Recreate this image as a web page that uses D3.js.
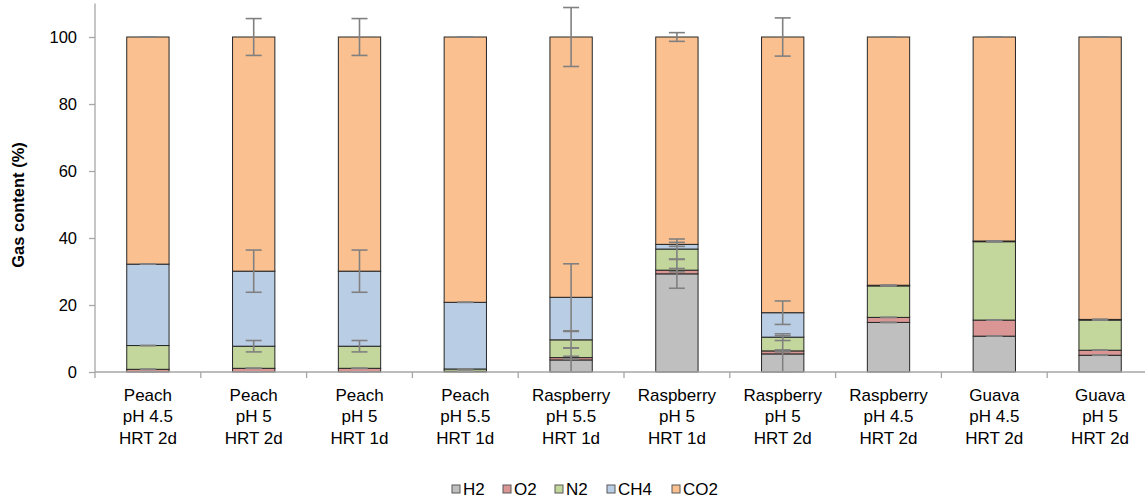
<!DOCTYPE html>
<html>
<head>
<meta charset="utf-8">
<script src="https://cdn.jsdelivr.net/npm/d3@7"></script>
<style>
  html, body { margin: 0; padding: 0; background: #fff; }
  svg { display: block; font-family: "Liberation Sans", Arial, sans-serif; }
</style>
</head>
<body>
<svg id="chart" width="1145" height="499"></svg>
<script>
const categories = [
  "Peach|pH 4.5|HRT 2d", "Peach|pH 5|HRT 2d", "Peach|pH 5|HRT 1d", "Peach|pH 5.5|HRT 1d",
  "Raspberry|pH 5.5|HRT 1d", "Raspberry|pH 5|HRT 1d", "Raspberry|pH 5|HRT 2d",
  "Raspberry|pH 4.5|HRT 2d", "Guava|pH 4.5|HRT 2d", "Guava|pH 5|HRT 2d"
];
const seriesNames = ["H2", "O2", "N2", "CH4", "CO2"];
const h2  = [0, 0, 0, 0, 3.6, 29.3, 5.4, 14.8, 10.7, 5.0];
const o2  = [0.8, 1.1, 1.1, 0.2, 0.7, 1.1, 0.9, 1.5, 4.8, 1.5];
const n2  = [7.1, 6.6, 6.6, 0.7, 5.3, 6.3, 4.1, 9.4, 23.4, 9.0];
const ch4 = [24.3, 22.4, 22.4, 19.9, 12.7, 1.4, 7.3, 0.2, 0.2, 0.2];
const co2 = [67.8, 69.9, 69.9, 79.2, 77.7, 61.9, 82.3, 74.1, 60.9, 84.3];
const h2Err  = [0, 0, 0, 0, 3.6, 4.3, 5.4, 0, 0, 0];
const o2Err  = [0, 0, 0, 0, 0.4, 0.5, 0.3, 0, 0, 0];
const n2Err  = [0, 1.7, 1.7, 0, 2.5, 3.0, 1.0, 0, 0, 0];
const ch4Err = [0, 6.3, 6.3, 0, 10, 0.6, 3.5, 0, 0, 0];
const co2Err = [0, 5.5, 5.5, 0, 8.8, 1.3, 5.7, 0, 0, 0];
const yTicks = [0, 20, 40, 60, 80, 100];
const colors = ["#bfbfbf", "#d99694", "#c3d69b", "#b9cde5", "#fac090"];

const values = [h2, o2, n2, ch4, co2];
const errs = [h2Err, o2Err, n2Err, ch4Err, co2Err];

const svg = d3.select("#chart");
const mLeft = 95, mRight = 1153, mTop = 3.5, mBottom = 372;

const x = d3.scaleBand().domain(categories).range([mLeft, mRight])
  .paddingInner(0.6).paddingOuter(0.3);
const y = d3.scaleLinear().domain([0, 110]).range([mBottom, mTop]);

const table = categories.map((c, i) => {
  const o = { cat: c };
  seriesNames.forEach((s, k) => o[s] = values[k][i]);
  return o;
});
const stacked = d3.stack().keys(seriesNames)(table);

// bars
const g = svg.append("g");
stacked.forEach((layer, k) => {
  g.selectAll(null).data(layer).enter().append("rect")
    .attr("x", d => x(d.data.cat))
    .attr("width", x.bandwidth())
    .attr("y", d => y(d[1]))
    .attr("height", d => Math.max(0, y(d[0]) - y(d[1])))
    .attr("fill", colors[k])
    .attr("stroke", "#262626")
    .attr("stroke-width", 1);
});

// error bars
const eg = svg.append("g").attr("stroke", "#808080").attr("stroke-width", 1.6);
const capW = 16;
stacked.forEach((layer, k) => {
  layer.forEach((d, i) => {
    const cx = x(d.data.cat) + x.bandwidth() / 2;
    const e = errs[k][i];
    const y1 = y(d[1] + e), y2 = y(d[1] - e);
    if (e > 0) {
      eg.append("line").attr("x1", cx).attr("x2", cx).attr("y1", y1).attr("y2", y2);
    }
    eg.append("line").attr("x1", cx - capW / 2).attr("x2", cx + capW / 2).attr("y1", y1).attr("y2", y1);
    eg.append("line").attr("x1", cx - capW / 2).attr("x2", cx + capW / 2).attr("y1", y2).attr("y2", y2);
  });
});

// y axis
const yAxis = d3.axisLeft(y).tickValues(yTicks).tickSize(6).tickPadding(12);
const ya = svg.append("g").attr("transform", `translate(${mLeft},0)`).call(yAxis);
ya.select(".domain").attr("stroke", "#a6a6a6").attr("stroke-width", 1.3).attr("d", `M0,${mTop}V${mBottom}`);
ya.selectAll(".tick line").attr("stroke", "#a6a6a6").attr("stroke-width", 1.3);
ya.selectAll(".tick text").attr("font-size", "16.5px").attr("fill", "#000")
  .attr("font-family", "Liberation Sans, Arial, sans-serif");

// x axis
const xa = svg.append("g");
xa.append("line").attr("x1", mLeft).attr("x2", mRight).attr("y1", mBottom).attr("y2", mBottom)
  .attr("stroke", "#a6a6a6").attr("stroke-width", 1.3);
const boundaries = categories.map(c => x(c) + x.bandwidth() / 2 - x.step() / 2)
  .concat([x(categories[categories.length - 1]) + x.bandwidth() / 2 + x.step() / 2]);
xa.selectAll(null).data(boundaries).enter().append("line")
  .attr("x1", d => d).attr("x2", d => d).attr("y1", mBottom).attr("y2", mBottom + 6)
  .attr("stroke", "#a6a6a6").attr("stroke-width", 1.3);
categories.forEach(c => {
  const cx = x(c) + x.bandwidth() / 2;
  const t = xa.append("text").attr("text-anchor", "middle").attr("font-size", "17px").attr("fill", "#000");
  c.split("|").forEach((line, j) => {
    t.append("tspan").attr("x", cx).attr("y", 401 + j * 21.3).text(line);
  });
});

// y title
svg.append("text")
  .attr("transform", `translate(24,205) rotate(-90)`)
  .attr("text-anchor", "middle")
  .attr("font-size", "16.5px").attr("font-weight", "bold").attr("fill", "#000")
  .text("Gas content (%)");

// legend
const lg = svg.append("g");
const legendX = [452, 503, 555, 607, 672];
seriesNames.forEach((s, k) => {
  lg.append("rect").attr("x", legendX[k]).attr("y", 485).attr("width", 8).attr("height", 8)
    .attr("fill", colors[k]).attr("stroke", "#595959").attr("stroke-width", 1);
  lg.append("text").attr("x", legendX[k] + 11).attr("y", 495).attr("font-size", "17px")
    .attr("fill", "#000").text(s);
});
</script>
</body>
</html>
